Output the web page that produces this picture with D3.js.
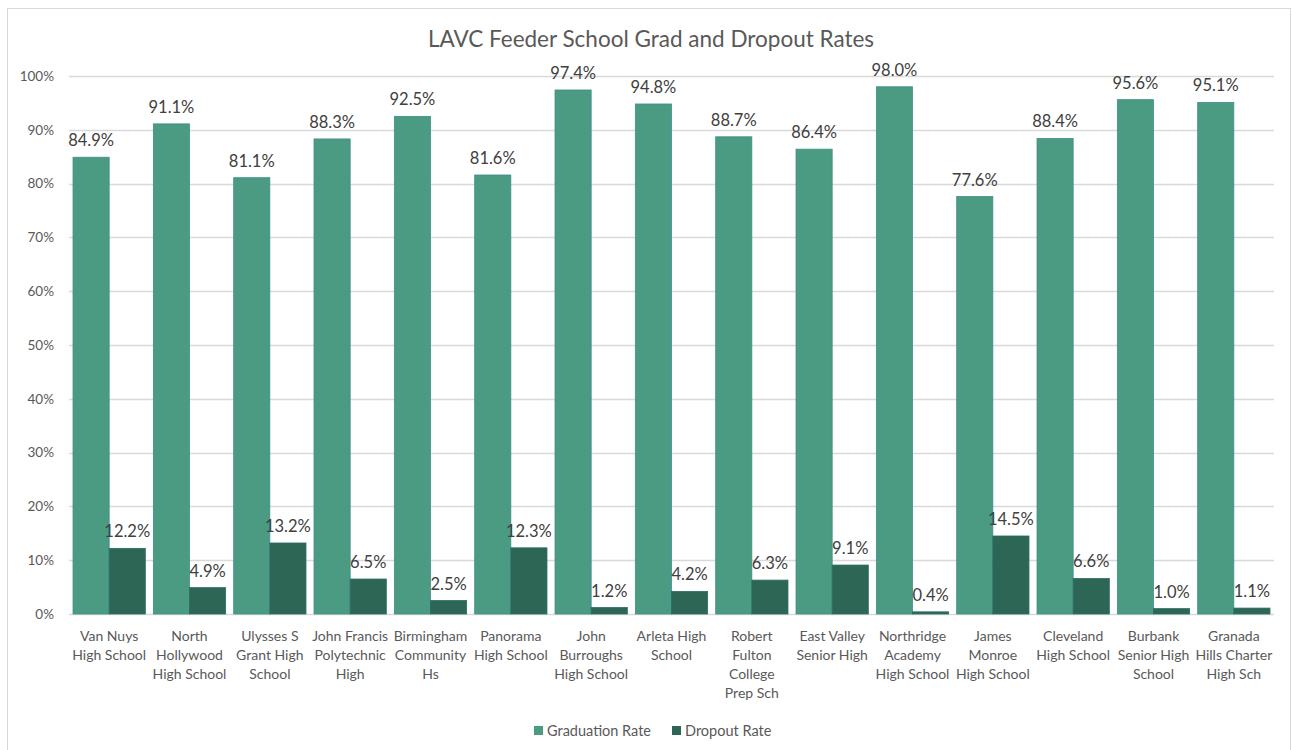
<!DOCTYPE html>
<html>
<head>
<meta charset="utf-8">
<script src="https://cdn.jsdelivr.net/npm/d3@7"></script>
<style>
  body { margin: 0; background: #fff; font-family: Lato, "Liberation Sans", sans-serif; }
  text { fill: #595959; }
</style>
</head>
<body>
<script>
var width = 1292,
    height = 750;

// data
var schools = [
  "Van Nuys\nHigh School", "North\nHollywood\nHigh School", "Ulysses S\nGrant High\nSchool",
  "John Francis\nPolytechnic\nHigh", "Birmingham\nCommunity\nHs", "Panorama\nHigh School",
  "John\nBurroughs\nHigh School", "Arleta High\nSchool", "Robert\nFulton\nCollege\nPrep Sch",
  "East Valley\nSenior High", "Northridge\nAcademy\nHigh School", "James\nMonroe\nHigh School",
  "Cleveland\nHigh School", "Burbank\nSenior High\nSchool", "Granada\nHills Charter\nHigh Sch"
];
var gradRate = [84.9, 91.1, 81.1, 88.3, 92.5, 81.6, 97.4, 94.8, 88.7, 86.4, 98.0, 77.6, 88.4, 95.6, 95.1];
var dropRate = [12.2, 4.9, 13.2, 6.5, 2.5, 12.3, 1.2, 4.2, 6.3, 9.1, 0.4, 14.5, 6.6, 1.0, 1.1];
var yTicks = [0, 10, 20, 30, 40, 50, 60, 70, 80, 90, 100];
var seriesNames = ["Graduation Rate", "Dropout Rate"];
var colors = ["#4b9a82", "#2e6656"];

var svg = d3.select("body").append("svg").attr("width", width).attr("height", height);

// chart frame
svg.append("rect").attr("x", 7.5).attr("y", 8.5).attr("width", 1283).attr("height", 745)
    .attr("fill", "none").attr("stroke", "#d9d9d9");

var x = d3.scaleBand()
    .domain(d3.range(schools.length))
    .range([69, 1274])
    .paddingInner(0.1)
    .paddingOuter(0.05);

var xs = d3.scaleBand().domain([0, 1]).range([0, x.bandwidth()]);

var y = d3.scaleLinear().domain([0, 100]).range([614, 76]);

// title
svg.append("text").attr("x", 651).attr("y", 47).attr("text-anchor", "middle")
    .style("font-size", "22.5px").text("LAVC Feeder School Grad and Dropout Rates");

// gridlines
svg.append("g").selectAll("line").data(yTicks).enter().append("line")
    .attr("x1", 69).attr("x2", 1274)
    .attr("y1", d => Math.round(y(d)) + 0.5).attr("y2", d => Math.round(y(d)) + 0.5)
    .attr("stroke", "#d9d9d9").attr("stroke-width", 1.3);

var yAxis = d3.axisLeft(y).tickValues(yTicks).tickSize(0).tickPadding(0).tickFormat(d => d + "%");
svg.append("g").attr("transform", "translate(54,0)").call(yAxis)
    .call(g => g.select(".domain").remove())
    .selectAll("text").style("font-size", "13.5px").attr("fill", "#595959")
    .style("font-family", "Lato, 'Liberation Sans', sans-serif");

var series = [gradRate, dropRate];
series.forEach(function (vals, s) {
  svg.append("g").selectAll("rect").data(vals).enter().append("rect")
      .attr("x", (d, i) => x(i) + xs(s))
      .attr("y", d => y(d))
      .attr("width", xs.bandwidth())
      .attr("height", d => y(0) - y(d))
      .attr("fill", colors[s])
      .attr("stroke", s === 0 ? "#3f8f8c" : "#2b6c66")
      .attr("stroke-width", 0.8);

  svg.append("g").selectAll("text").data(vals).enter().append("text")
      .attr("x", (d, i) => x(i) + xs(s) + xs.bandwidth() / 2)
      .attr("y", d => y(d) - 11)
      .attr("text-anchor", "middle")
      .style("font-size", "16.5px")
      .style("fill", "#404040")
      .text(d => d.toFixed(1) + "%");
});

// category labels
var cat = svg.append("g").selectAll("text").data(schools).enter().append("text")
    .attr("x", (d, i) => x(i) + x.bandwidth() / 2)
    .attr("y", 641)
    .attr("text-anchor", "middle")
    .style("font-size", "14px");
cat.each(function (d, i) {
  var t = d3.select(this);
  d.split("\n").forEach(function (line, j) {
    t.append("tspan").attr("x", x(i) + x.bandwidth() / 2).attr("dy", j === 0 ? 0 : 19).text(line);
  });
});

// legend
var legX = [534, 672];
var leg = svg.append("g").selectAll("g").data(seriesNames).enter().append("g")
    .attr("transform", (d, i) => "translate(" + legX[i] + ",726)");
leg.append("rect").attr("width", 9).attr("height", 9).attr("fill", (d, i) => colors[i]);
leg.append("text").attr("x", 13).attr("y", 9.5).style("font-size", "14.5px").text(d => d);
</script>
</body>
</html>
